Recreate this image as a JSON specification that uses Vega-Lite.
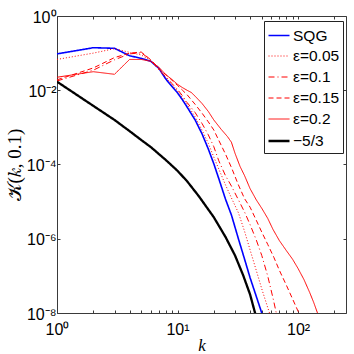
{
  "$schema": "https://vega.github.io/schema/vega-lite/v6.json",
  "width": 289,
  "height": 297,
  "autosize": {"type": "none"},
  "padding": {"left": 57, "top": 16, "right": 8, "bottom": 41},
  "background": "white",
  "data": {"values": [
    {"s":"SQG","k":1,"K":0.0955},{"s":"SQG","k":2,"K":0.140},{"s":"SQG","k":3,"K":0.135},{"s":"SQG","k":4,"K":0.0851},{"s":"SQG","k":5,"K":0.0724},{"s":"SQG","k":6,"K":0.0603},{"s":"SQG","k":7,"K":0.0389},{"s":"SQG","k":8,"K":0.0200},{"s":"SQG","k":9,"K":0.0126},{"s":"SQG","k":10,"K":0.00851},{"s":"SQG","k":11,"K":0.00550},{"s":"SQG","k":12,"K":0.00355},{"s":"SQG","k":14,"K":0.001585},{"s":"SQG","k":16,"K":0.000661},{"s":"SQG","k":18,"K":0.000263},{"s":"SQG","k":20,"K":0.000105},{"s":"SQG","k":22,"K":4.17e-5},{"s":"SQG","k":25,"K":1.17e-5},{"s":"SQG","k":28,"K":4.37e-6},{"s":"SQG","k":32,"K":1.0e-6},{"s":"SQG","k":36,"K":2.82e-7},{"s":"SQG","k":40,"K":8.91e-8},{"s":"SQG","k":45,"K":2.82e-8},{"s":"SQG","k":50,"K":1.0e-8},{"s":"SQG","k":55,"K":3.98e-9},

    {"s":"ε=0.05","k":1,"K":0.0676},{"s":"ε=0.05","k":2,"K":0.100},{"s":"ε=0.05","k":3,"K":0.132},{"s":"ε=0.05","k":4,"K":0.105},{"s":"ε=0.05","k":5,"K":0.0891},{"s":"ε=0.05","k":6,"K":0.0631},{"s":"ε=0.05","k":7,"K":0.0380},{"s":"ε=0.05","k":8,"K":0.0219},{"s":"ε=0.05","k":9,"K":0.0141},{"s":"ε=0.05","k":10,"K":0.00955},{"s":"ε=0.05","k":11,"K":0.00631},{"s":"ε=0.05","k":12,"K":0.00427},{"s":"ε=0.05","k":14,"K":0.00191},{"s":"ε=0.05","k":16,"K":0.000832},{"s":"ε=0.05","k":18,"K":0.000372},{"s":"ε=0.05","k":20,"K":0.0001585},{"s":"ε=0.05","k":22,"K":7.59e-5},{"s":"ε=0.05","k":25,"K":2.82e-5},{"s":"ε=0.05","k":28,"K":1.26e-5},{"s":"ε=0.05","k":32,"K":5.01e-6},{"s":"ε=0.05","k":36,"K":1.585e-6},{"s":"ε=0.05","k":40,"K":5.01e-7},{"s":"ε=0.05","k":45,"K":1.41e-7},{"s":"ε=0.05","k":50,"K":4.47e-8},{"s":"ε=0.05","k":56,"K":1.41e-8},{"s":"ε=0.05","k":60,"K":7.08e-9},

    {"s":"ε=0.1","k":1,"K":0.0178},{"s":"ε=0.1","k":2,"K":0.0347},{"s":"ε=0.1","k":3,"K":0.0661},{"s":"ε=0.1","k":4,"K":0.0955},{"s":"ε=0.1","k":5,"K":0.102},{"s":"ε=0.1","k":6,"K":0.0661},{"s":"ε=0.1","k":7,"K":0.0355},{"s":"ε=0.1","k":8,"K":0.0234},{"s":"ε=0.1","k":9,"K":0.0151},{"s":"ε=0.1","k":10,"K":0.0105},{"s":"ε=0.1","k":11,"K":0.00708},{"s":"ε=0.1","k":12,"K":0.00468},{"s":"ε=0.1","k":14,"K":0.00251},{"s":"ε=0.1","k":16,"K":0.00126},{"s":"ε=0.1","k":18,"K":0.000631},{"s":"ε=0.1","k":20,"K":0.000302},{"s":"ε=0.1","k":22,"K":0.000126},{"s":"ε=0.1","k":25,"K":5.01e-5},{"s":"ε=0.1","k":28,"K":2.63e-5},{"s":"ε=0.1","k":32,"K":1.12e-5},{"s":"ε=0.1","k":36,"K":5.25e-6},{"s":"ε=0.1","k":40,"K":2.40e-6},{"s":"ε=0.1","k":45,"K":9.33e-7},{"s":"ε=0.1","k":50,"K":3.55e-7},{"s":"ε=0.1","k":56,"K":1.0e-7},{"s":"ε=0.1","k":62,"K":2.51e-8},{"s":"ε=0.1","k":66,"K":1.0e-8},{"s":"ε=0.1","k":70,"K":5.01e-9},

    {"s":"ε=0.15","k":1,"K":0.0191},{"s":"ε=0.15","k":2,"K":0.0398},{"s":"ε=0.15","k":3,"K":0.0759},{"s":"ε=0.15","k":4,"K":0.100},{"s":"ε=0.15","k":5,"K":0.107},{"s":"ε=0.15","k":6,"K":0.0661},{"s":"ε=0.15","k":7,"K":0.0380},{"s":"ε=0.15","k":8,"K":0.0263},{"s":"ε=0.15","k":9,"K":0.0186},{"s":"ε=0.15","k":10,"K":0.0135},{"s":"ε=0.15","k":11,"K":0.0100},{"s":"ε=0.15","k":12,"K":0.00759},{"s":"ε=0.15","k":14,"K":0.00417},{"s":"ε=0.15","k":16,"K":0.00240},{"s":"ε=0.15","k":18,"K":0.00141},{"s":"ε=0.15","k":20,"K":0.000851},{"s":"ε=0.15","k":22,"K":0.000447},{"s":"ε=0.15","k":25,"K":0.000191},{"s":"ε=0.15","k":28,"K":8.32e-5},{"s":"ε=0.15","k":32,"K":2.82e-5},{"s":"ε=0.15","k":36,"K":1.20e-5},{"s":"ε=0.15","k":40,"K":7.08e-6},{"s":"ε=0.15","k":45,"K":3.16e-6},{"s":"ε=0.15","k":50,"K":1.51e-6},{"s":"ε=0.15","k":56,"K":7.08e-7},{"s":"ε=0.15","k":63,"K":3.16e-7},{"s":"ε=0.15","k":70,"K":1.41e-7},{"s":"ε=0.15","k":80,"K":5.62e-8},{"s":"ε=0.15","k":90,"K":2.40e-8},{"s":"ε=0.15","k":100,"K":1.12e-8},{"s":"ε=0.15","k":105,"K":7.94e-9},

    {"s":"ε=0.2","k":1,"K":0.0224},{"s":"ε=0.2","k":2,"K":0.0316},{"s":"ε=0.2","k":3,"K":0.0269},{"s":"ε=0.2","k":4,"K":0.0676},{"s":"ε=0.2","k":5,"K":0.0676},{"s":"ε=0.2","k":6,"K":0.0603},{"s":"ε=0.2","k":7,"K":0.0417},{"s":"ε=0.2","k":8,"K":0.0263},{"s":"ε=0.2","k":9,"K":0.0195},{"s":"ε=0.2","k":10,"K":0.01445},{"s":"ε=0.2","k":11,"K":0.01175},{"s":"ε=0.2","k":12,"K":0.0100},{"s":"ε=0.2","k":13,"K":0.00871},{"s":"ε=0.2","k":14,"K":0.00692},{"s":"ε=0.2","k":16,"K":0.00437},{"s":"ε=0.2","k":18,"K":0.00269},{"s":"ε=0.2","k":20,"K":0.001585},{"s":"ε=0.2","k":23,"K":0.000891},{"s":"ε=0.2","k":26,"K":0.000562},{"s":"ε=0.2","k":28,"K":0.000398},{"s":"ε=0.2","k":30,"K":0.000200},{"s":"ε=0.2","k":33,"K":8.91e-5},{"s":"ε=0.2","k":36,"K":5.01e-5},{"s":"ε=0.2","k":40,"K":2.24e-5},{"s":"ε=0.2","k":45,"K":1.12e-5},{"s":"ε=0.2","k":50,"K":6.61e-6},{"s":"ε=0.2","k":56,"K":3.55e-6},{"s":"ε=0.2","k":62,"K":1.78e-6},{"s":"ε=0.2","k":70,"K":8.91e-7},{"s":"ε=0.2","k":80,"K":4.79e-7},{"s":"ε=0.2","k":90,"K":2.82e-7},{"s":"ε=0.2","k":100,"K":1.585e-7},{"s":"ε=0.2","k":112,"K":7.94e-8},{"s":"ε=0.2","k":125,"K":3.55e-8},{"s":"ε=0.2","k":135,"K":1.91e-8},{"s":"ε=0.2","k":145,"K":1.0e-8},{"s":"ε=0.2","k":150,"K":7.08e-9},

    {"s":"−5/3","k":1,"K":0.0170},{"s":"−5/3","k":1.5,"K":0.00708},{"s":"−5/3","k":2,"K":0.00380},{"s":"−5/3","k":3,"K":0.001585},{"s":"−5/3","k":4,"K":0.000794},{"s":"−5/3","k":5,"K":0.000457},{"s":"−5/3","k":6,"K":0.000295},{"s":"−5/3","k":8,"K":0.000132},{"s":"−5/3","k":10,"K":6.76e-5},{"s":"−5/3","k":12,"K":3.55e-5},{"s":"−5/3","k":15,"K":1.41e-5},{"s":"−5/3","k":20,"K":3.80e-6},{"s":"−5/3","k":25,"K":1.12e-6},{"s":"−5/3","k":30,"K":3.55e-7},{"s":"−5/3","k":35,"K":1.05e-7},{"s":"−5/3","k":40,"K":3.16e-8},{"s":"−5/3","k":44,"K":1.0e-8},{"s":"−5/3","k":46,"K":5.62e-9}
  ]},
  "resolve": {"axis": {"x": "independent", "y": "independent"}},
  "layer": [
    {
      "mark": {"type": "line", "clip": true},
      "encoding": {
        "x": {"field": "k", "type": "quantitative",
              "scale": {"type": "log", "domain": [1, 250], "nice": false},
              "axis": {"orient": "bottom", "values": [1,2,3,4,5,6,7,8,9,10,20,30,40,50,60,70,80,90,100,200],
                       "labelExpr": "datum.value == 1 ? '10⁰' : datum.value == 10 ? '10¹' : datum.value == 100 ? '10²' : ''",
                       "tickSize": -3, "labelPadding": 11, "labelFlush": false,
                       "title": "k", "titleFont": "Liberation Serif", "titleFontStyle": "italic", "titleFontWeight": "normal", "titleFontSize": 17, "titlePadding": 0}},
        "y": {"field": "K", "type": "quantitative",
              "scale": {"type": "log", "domain": [1e-8, 1], "nice": false},
              "axis": {"orient": "left", "values": [1e-8, 1e-6, 1e-4, 1e-2, 1],
                       "labelExpr": "datum.value >= 0.5 ? '10⁰' : datum.value >= 0.005 ? '10⁻²' : datum.value >= 0.00005 ? '10⁻⁴' : datum.value >= 5e-7 ? '10⁻⁶' : '10⁻⁸'",
                       "tickSize": -3, "labelPadding": 4, "labelOffset": 1, "labelFlush": false,
                       "title": "𝒦(𝑘, 0.1)", "titleFont": "Liberation Serif", "titleFontWeight": "normal", "titleFontSize": 19, "titlePadding": 2}},
        "color": {"field": "s", "type": "nominal",
                  "scale": {"domain": ["SQG","ε=0.05","ε=0.1","ε=0.15","ε=0.2","−5/3"], "range": ["#0000ff","#ff0000","#ff0000","#ff0000","#ff0000","#000000"]},
                  "legend": {"title": null,
                             "encode": {"symbols": {"update": {
                               "strokeDash": {"signal": "datum.value == 'ε=0.05' ? [1,2] : datum.value == 'ε=0.1' ? [6,3,1,3] : datum.value == 'ε=0.15' ? [5,3] : [1,0]"},
                               "strokeWidth": {"signal": "datum.value == 'SQG' ? 1.6 : datum.value == '−5/3' ? 2.3 : 1.2"}
                             }}}}},
        "strokeDash": {"field": "s", "type": "nominal",
                  "scale": {"domain": ["SQG","ε=0.05","ε=0.1","ε=0.15","ε=0.2","−5/3"], "range": [[1,0],[1,2],[6,3,1,3],[5,3],[1,0],[1,0]]},
                  "legend": null},
        "strokeWidth": {"field": "s", "type": "nominal",
                  "scale": {"type": "ordinal", "domain": ["SQG","ε=0.05","ε=0.1","ε=0.15","ε=0.2","−5/3"], "range": [1.6,1,1,1,1,2.3]},
                  "legend": null}
      }
    },
    {
      "mark": {"type": "point", "opacity": 0},
      "encoding": {
        "x": {"field": "k", "type": "quantitative",
              "axis": {"orient": "top", "values": [1,2,3,4,5,6,7,8,9,10,20,30,40,50,60,70,80,90,100,200], "labels": false, "tickSize": -3, "title": null}},
        "y": {"field": "K", "type": "quantitative",
              "axis": {"orient": "right", "values": [1e-8, 1e-6, 1e-4, 1e-2, 1], "labels": false, "tickSize": -3, "title": null}}
      }
    }
  ],
  "config": {
    "view": {"stroke": null},
    "axis": {"grid": false, "domainColor": "#3a3a3a", "tickColor": "#3a3a3a", "labelColor": "#000", "labelFont": "Liberation Sans", "labelFontSize": 16, "titleColor": "#000"},
    "legend": {"orient": "none", "legendX": 207, "legendY": 5, "strokeColor": "#222", "fillColor": "white", "padding": 3,
               "symbolType": "stroke", "symbolSize": 441, "labelFontSize": 15.5, "labelFont": "Liberation Sans", "labelColor": "#000",
               "rowPadding": 1, "labelOffset": 2, "titlePadding": 0}
  }
}
